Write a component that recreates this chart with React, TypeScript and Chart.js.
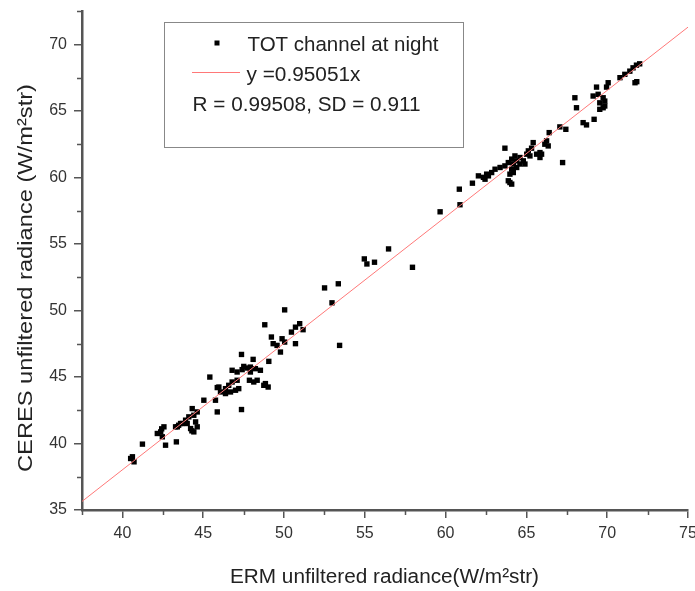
import React, { useEffect, useRef } from 'react';
import { Chart, registerables } from 'chart.js';

Chart.register(...registerables);

// ERM (x) and CERES (y) unfiltered radiance, W/m²str
const ermRadiance = [
  40.62, 40.72, 40.51, 41.24, 42.37, 42.57, 42.47, 42.67, 42.16, 42.43,
  43.34, 43.29, 43.48, 43.6, 43.91, 44.11, 44.53, 44.63, 44.42, 44.22,
  44.3, 44.32, 44.63, 44.42, 45.04, 45.76, 45.87, 47.37, 45.41, 45.87,
  46.07, 46.38, 46.58, 46.79, 47.1, 46.69, 47.0, 46.79, 47.1, 47.51,
  47.72, 47.41, 47.37, 48.09, 49.06, 47.92, 48.23, 48.54, 47.86, 48.13,
  48.34, 48.75, 49.02, 49.78, 49.22, 49.33, 49.57, 49.88, 50.04, 50.71,
  48.81, 50.04, 50.71, 50.97, 51.18, 50.46, 52.51, 53.36, 52.97, 53.44,
  54.97, 55.13, 55.6, 56.47, 57.95, 59.66, 60.89, 47.2, 46.38, 45.97,
  47.92, 48.85, 43.4, 43.71, 44.01,
  60.85, 61.66, 62.03, 62.34, 62.54, 62.85, 63.06, 63.37, 63.67, 63.67,
  63.98, 64.09, 63.88, 62.44, 62.65, 64.81, 64.6, 64.4, 64.29, 64.09,
  63.88, 64.19, 64.6, 64.91, 64.4, 64.09, 63.98, 64.19, 65.42, 65.32,
  65.12, 65.02, 65.22, 65.84, 65.63, 65.84, 65.94, 66.25, 66.41, 66.35,
  66.14, 67.07, 67.44, 67.24, 68.0, 68.1, 68.51, 68.72, 69.19, 69.34,
  70.06, 69.96, 69.13, 69.44, 69.75, 69.85, 69.54, 69.85, 69.75, 69.54,
  71.72, 71.83, 70.79, 71.09, 71.4, 71.6, 71.81, 72.01,
];
const ceresRadiance = [
  39.0, 38.62, 38.87, 39.95, 40.87, 41.25, 40.5, 39.87, 40.75, 41.1,
  40.12, 41.25, 41.37, 41.5, 41.75, 42.0, 41.62, 41.25, 40.87, 41.12,
  40.95, 42.62, 42.37, 42.12, 43.25, 43.25, 42.37, 42.55, 44.99, 44.2,
  43.87, 44.12, 44.37, 44.62, 44.75, 43.87, 44.0, 45.5, 45.37, 45.79,
  45.67, 45.55, 46.69, 46.32, 46.17, 45.37, 45.62, 45.5, 44.75, 44.62,
  44.75, 44.37, 44.24, 46.87, 48.0, 47.5, 47.37, 47.87, 47.62, 47.5,
  48.92, 50.04, 48.74, 49.0, 48.55, 48.37, 51.69, 52.0, 50.57, 47.37,
  53.87, 53.49, 53.62, 54.62, 53.24, 57.41, 57.94, 44.12, 43.75, 44.24,
  45.74, 44.5, 41.25, 41.5, 41.5,
  59.11, 59.56, 60.11, 60.0, 60.24, 60.36, 60.61, 60.74, 60.86, 62.19,
  59.61, 59.49, 59.74, 59.86, 60.11, 61.24, 61.49, 61.24, 61.61, 61.37,
  61.11, 61.0, 61.0, 61.0, 60.74, 60.61, 60.24, 60.36, 62.61, 62.19,
  61.99, 61.74, 61.61, 61.49, 61.74, 61.86, 61.74, 62.74, 63.36, 62.36,
  62.49, 63.79, 63.61, 61.11, 65.98, 65.23, 64.11, 63.94, 64.36, 66.78,
  67.11, 66.78, 66.11, 66.24, 65.98, 65.73, 65.6, 65.36, 65.23, 65.11,
  67.11, 67.19, 67.49, 67.74, 67.98, 68.23, 68.43, 68.53,
];

// Fit line y = 0.95051x, endpoints at the axis limits
const fitLineX = [37.5, 75];
const fitLineY = [35.644, 71.288];

const xTickValues = [40, 45, 50, 55, 60, 65, 70, 75];
const yTickValues = [35, 40, 45, 50, 55, 60, 65, 70];
const xMinorTicks = [37.5, 42.5, 47.5, 52.5, 57.5, 62.5, 67.5, 72.5];
const yMinorTicks = [37.5, 42.5, 47.5, 52.5, 57.5, 62.5, 67.5, 72.5];

const legendLabels = ['TOT channel at night', 'y =0.95051x', 'R = 0.99508, SD = 0.911'];
const xAxisTitle = 'ERM unfiltered radiance(W/m\u00B2str)';
const yAxisTitle = 'CERES unfiltered radiance (W/m\u00B2str)';

const FONT = 'Arial, "Liberation Sans", sans-serif';
const AXIS_COLOR = '#555';
const TEXT_COLOR = '#222';
const FIT_COLOR = 'rgb(255,120,120)';

function fitText(ctx: CanvasRenderingContext2D, text: string, x: number, y: number, width: number, font: string, rotate = false) {
  ctx.save();
  ctx.font = font;
  ctx.fillStyle = TEXT_COLOR;
  ctx.textAlign = 'left';
  ctx.textBaseline = 'alphabetic';
  const w = ctx.measureText(text).width;
  ctx.translate(x, y);
  if (rotate) ctx.rotate(-Math.PI / 2);
  ctx.scale(width / w, 1);
  ctx.fillText(text, 0, 0);
  ctx.restore();
}

const decorPlugin = {
  id: 'decor',
  afterDraw(chart: any) {
    const ctx: CanvasRenderingContext2D = chart.ctx;
    const xs = chart.scales.x;
    const ys = chart.scales.y;
    const area = chart.chartArea;
    // minor ticks
    ctx.save();
    ctx.strokeStyle = AXIS_COLOR;
    ctx.lineWidth = 1.5;
    ctx.beginPath();
    xMinorTicks.forEach((v) => {
      const px = Math.round(xs.getPixelForValue(v)) + 0.5;
      ctx.moveTo(px, area.bottom);
      ctx.lineTo(px, area.bottom + 5);
    });
    yMinorTicks.forEach((v) => {
      const py = Math.round(ys.getPixelForValue(v)) + 0.5;
      ctx.moveTo(area.left - 5, py);
      ctx.lineTo(area.left, py);
    });
    ctx.stroke();
    ctx.restore();

    // axis titles
    fitText(ctx, xAxisTitle, 230, 583, 309, `20px ${FONT}`);
    fitText(ctx, yAxisTitle, 32, 472, 388, `21px ${FONT}`, true);

    // legend box
    ctx.save();
    ctx.strokeStyle = '#888';
    ctx.lineWidth = 1;
    ctx.strokeRect(164.5, 22.5, 299, 125);
    ctx.fillStyle = '#000';
    ctx.fillRect(214.5, 40.5, 5, 5);
    ctx.strokeStyle = FIT_COLOR;
    ctx.beginPath();
    ctx.moveTo(192, 72.5);
    ctx.lineTo(240, 72.5);
    ctx.stroke();
    ctx.restore();
    fitText(ctx, legendLabels[0], 247.5, 51, 191, `20.5px ${FONT}`);
    fitText(ctx, legendLabels[1], 246.5, 81, 114, `20.5px ${FONT}`);
    fitText(ctx, legendLabels[2], 192.5, 111, 228, `20.5px ${FONT}`);
  },
};

export default function App() {
  const canvasRef = useRef<HTMLCanvasElement | null>(null);

  useEffect(() => {
    const canvas = canvasRef.current;
    if (!canvas) return;
    const points = ermRadiance.map((x, i) => ({ x, y: ceresRadiance[i] }));
    const fit = fitLineX.map((x, i) => ({ x, y: fitLineY[i] }));

    const chart = new Chart(canvas, {
      type: 'scatter',
      data: {
        datasets: [
          {
            type: 'line',
            label: legendLabels[1],
            data: fit,
            borderColor: FIT_COLOR,
            borderWidth: 1,
            pointRadius: 0,
            fill: false,
          } as any,
          {
            label: legendLabels[0],
            data: points,
            pointStyle: 'rect',
            pointRadius: 3.8,
            backgroundColor: '#000',
            borderWidth: 0,
          },
        ],
      },
      options: {
        responsive: false,
        animation: false,
        devicePixelRatio: 1,
        layout: { padding: { top: 11, right: 7, left: 0, bottom: 0 } },
        plugins: {
          legend: { display: false },
          tooltip: { enabled: false },
          title: { display: false },
        },
        scales: {
          x: {
            type: 'linear',
            min: 37.5,
            max: 75,
            afterBuildTicks: (scale: any) => {
              scale.ticks = xTickValues.map((v) => ({ value: v }));
            },
            afterFit: (scale: any) => {
              scale.height = 81;
              scale.paddingLeft = 0;
              scale.paddingRight = 0;
            },
            grid: {
              display: true,
              drawOnChartArea: false,
              drawTicks: true,
              tickLength: 8,
              tickColor: AXIS_COLOR,
              lineWidth: 1.5,
            },
            border: { display: true, color: AXIS_COLOR, width: 2.5 },
            ticks: {
              autoSkip: false,
              maxRotation: 0,
              padding: 6,
              color: '#333',
              font: { family: FONT, size: 16 },
            },
          },
          y: {
            type: 'linear',
            min: 35,
            max: 72.5,
            afterBuildTicks: (scale: any) => {
              scale.ticks = yTickValues.map((v) => ({ value: v }));
            },
            afterFit: (scale: any) => {
              scale.width = 82;
              scale.paddingTop = 0;
              scale.paddingBottom = 0;
            },
            grid: {
              display: true,
              drawOnChartArea: false,
              drawTicks: true,
              tickLength: 8,
              tickColor: AXIS_COLOR,
              lineWidth: 1.5,
            },
            border: { display: true, color: AXIS_COLOR, width: 2.5 },
            ticks: {
              autoSkip: false,
              padding: 7,
              color: '#333',
              font: { family: FONT, size: 16 },
            },
          },
        },
      },
      plugins: [decorPlugin],
    });
    return () => chart.destroy();
  }, []);

  return (
    <div style={{ position: 'absolute', left: 0, top: 0, width: 695, height: 591, background: '#fff' }}>
      <canvas ref={canvasRef} width={695} height={591} />
    </div>
  );
}
